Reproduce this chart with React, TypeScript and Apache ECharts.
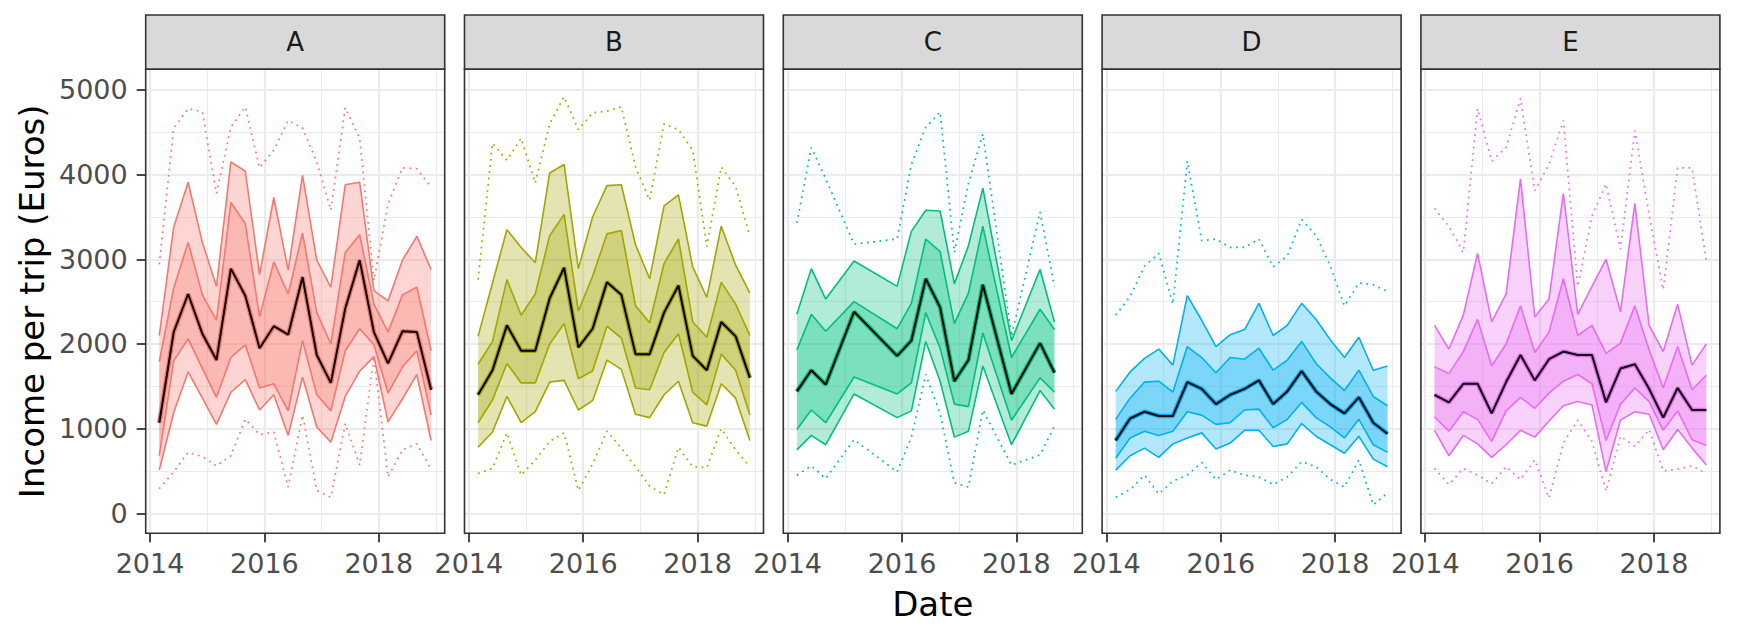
import React, { useEffect, useRef } from "react";
import * as echarts from "echarts";

// ---------- data ----------
const QUARTERS = [
  "2014-03-01", "2014-06-01", "2014-09-01", "2014-12-01",
  "2015-03-01", "2015-06-01", "2015-09-01", "2015-12-01",
  "2016-03-01", "2016-06-01", "2016-09-01", "2016-12-01",
  "2017-03-01", "2017-06-01", "2017-09-01", "2017-12-01",
  "2018-03-01", "2018-06-01", "2018-09-01", "2018-12-01",
];
const C_DATES = [
  "2014-03-01", "2014-06-01", "2014-09-01", "2015-03-01", "2015-12-01",
  "2016-03-01", "2016-06-01", "2016-09-01", "2016-12-01", "2017-03-01",
  "2017-06-01", "2017-12-01", "2018-06-01", "2018-09-01",
];

const A_MED = [1070, 2140, 2590, 2120, 1810, 2890, 2570, 1950, 2210, 2110, 2790, 1870, 1540, 2420, 2990, 2140, 1770, 2150, 2140, 1460];
const A_P75 = [1790, 2660, 3200, 2580, 2280, 3670, 3420, 2320, 2970, 2590, 3310, 2370, 2000, 3080, 3290, 2470, 2140, 2580, 2670, 1920];
const A_P25 = [680, 1800, 2060, 1710, 1370, 1840, 1990, 1480, 1530, 1210, 2040, 1400, 1210, 1920, 2180, 1990, 1420, 1730, 1920, 1160];
const A_P90 = [2100, 3380, 3910, 3200, 2680, 4150, 4040, 2820, 3730, 2870, 3990, 2990, 2670, 3880, 3910, 2630, 2510, 2990, 3270, 2880];
const A_P10 = [510, 1190, 1670, 1360, 1050, 1430, 1580, 1220, 1400, 920, 1610, 1020, 840, 1380, 1680, 1850, 1080, 1350, 1640, 860];
const A_MAX = [2940, 4550, 4780, 4740, 3780, 4560, 4800, 4080, 4290, 4640, 4550, 4150, 3580, 4790, 4430, 2750, 3650, 4080, 4070, 3850];
const A_MIN = [290, 490, 720, 670, 560, 680, 1110, 930, 960, 310, 1160, 270, 190, 1060, 570, 1850, 430, 750, 820, 520];

const B_MED = [1400, 1690, 2220, 1920, 1920, 2540, 2900, 1960, 2180, 2730, 2580, 1880, 1880, 2370, 2690, 1860, 1690, 2260, 2090, 1600];
const B_P75 = [1760, 2030, 2760, 2340, 2590, 3280, 3530, 2390, 2800, 3300, 3340, 2450, 2250, 2950, 3240, 2260, 2080, 2730, 2470, 2100];
const B_P25 = [1070, 1340, 1770, 1540, 1540, 2000, 2240, 1590, 1680, 2210, 2070, 1480, 1460, 1900, 2120, 1430, 1280, 1880, 1690, 1160];
const B_P90 = [2090, 2720, 3350, 3140, 2960, 4020, 4120, 2890, 3500, 3870, 3880, 3170, 2770, 3630, 3760, 2910, 2550, 3390, 2930, 2600];
const B_P10 = [780, 960, 1380, 1070, 1200, 1550, 1570, 1220, 1330, 1810, 1700, 1170, 1130, 1400, 1560, 1070, 1030, 1530, 1360, 860];
const B_MAX = [2760, 4370, 4170, 4430, 3900, 4600, 4920, 4530, 4730, 4750, 4800, 4090, 3700, 4600, 4530, 4290, 3150, 4090, 3860, 3270];
const B_MIN = [470, 530, 950, 450, 630, 850, 950, 270, 580, 970, 770, 550, 320, 220, 780, 550, 540, 1000, 750, 550];

const C_MED = [1440, 1690, 1520, 2380, 1860, 2040, 2770, 2430, 1560, 1810, 2700, 1410, 2010, 1660];
const C_P75 = [1930, 2350, 2150, 2500, 2180, 2480, 3240, 3090, 2240, 2600, 3390, 1840, 2410, 2170];
const C_P25 = [990, 1220, 1070, 1610, 1410, 1540, 2370, 1950, 1290, 1260, 2130, 1100, 1600, 1430];
const C_P90 = [2350, 2890, 2530, 2980, 2680, 3330, 3580, 3570, 2710, 3160, 3840, 2040, 2880, 2260];
const C_P10 = [750, 920, 810, 1410, 1130, 1210, 2030, 1560, 900, 970, 1740, 810, 1450, 1230];
const C_MAX = [3430, 4320, 3950, 3180, 3240, 4120, 4560, 4740, 3080, 3900, 4480, 2090, 3560, 2680];
const C_MIN = [450, 560, 410, 870, 490, 900, 1640, 1180, 360, 310, 1220, 570, 690, 1030];

const D_MED = [860, 1120, 1200, 1150, 1150, 1550, 1470, 1290, 1400, 1470, 1570, 1290, 1440, 1680, 1440, 1290, 1180, 1370, 1070, 940];
const D_P75 = [1110, 1360, 1550, 1560, 1430, 1970, 1840, 1660, 1840, 1820, 1950, 1690, 1810, 2030, 1770, 1600, 1450, 1690, 1380, 1270];
const D_P25 = [650, 890, 970, 920, 970, 1200, 1160, 1050, 1070, 1220, 1230, 1010, 1110, 1310, 1130, 1020, 890, 1110, 810, 720];
const D_P90 = [1440, 1670, 1830, 1940, 1750, 2570, 2280, 1970, 2110, 2170, 2480, 2100, 2220, 2480, 2290, 2050, 1840, 2080, 1690, 1740];
const D_P10 = [510, 680, 770, 660, 820, 890, 950, 760, 830, 980, 980, 790, 820, 1060, 910, 810, 710, 910, 640, 550];
const D_MAX = [2340, 2560, 2920, 3070, 2470, 4160, 3220, 3240, 3140, 3140, 3240, 2910, 3040, 3470, 3280, 2920, 2450, 2720, 2700, 2620];
const D_MIN = [190, 280, 450, 230, 380, 450, 600, 400, 510, 450, 430, 340, 430, 610, 550, 400, 310, 630, 100, 240];

const E_MED = [1400, 1310, 1530, 1530, 1180, 1550, 1870, 1570, 1820, 1910, 1870, 1870, 1310, 1710, 1760, 1470, 1130, 1480, 1220, 1220];
const E_P75 = [1730, 1650, 1910, 2290, 1740, 2000, 2450, 1900, 2140, 2770, 2100, 2220, 1890, 2010, 2450, 1930, 1480, 1970, 1460, 1630];
const E_P25 = [1140, 970, 1200, 1110, 850, 1210, 1370, 1240, 1420, 1560, 1640, 1530, 860, 1290, 1480, 1320, 980, 1210, 870, 800];
const E_P90 = [2220, 1940, 2340, 3070, 2260, 2590, 3950, 2320, 2530, 3780, 2350, 2680, 3000, 2380, 3660, 2220, 1910, 2470, 1750, 2000];
const E_P10 = [980, 680, 920, 820, 660, 810, 980, 900, 1090, 1270, 1320, 1280, 490, 1100, 1200, 1170, 750, 990, 770, 570];
const E_MAX = [3600, 3390, 3080, 4780, 4160, 4320, 4900, 3810, 4120, 4640, 2680, 3510, 3890, 3120, 4520, 3530, 2640, 4080, 4080, 2980];
const E_MIN = [530, 340, 530, 450, 350, 550, 400, 630, 180, 830, 1100, 850, 260, 910, 790, 990, 500, 520, 560, 470];

const PANEL_NAMES = ["A", "B", "C", "D", "E"];
const PANEL_COLORS = ["#F8766D", "#A3A500", "#00BF7D", "#00B0F6", "#E76BF3"];
const X_MAJOR = [2014, 2016, 2018];
const X_MINOR = [2015, 2017, 2019];
const Y_MAJOR = [0, 1000, 2000, 3000, 4000, 5000];
const Y_MINOR = [500, 1500, 2500, 3500, 4500];
const Y_MIN = -236;
const Y_MAX = 5244;

// ---------- layout ----------
const W = 1755;
const H = 629;
const L0 = 145.7;
const STEP = 318.8;
const PW = 299;
const TOP = 69.3;
const PH = 464;
const STRIP_TOP = 15;
const FONT = '"DejaVu Sans", "Liberation Sans", sans-serif';

function decYear(s: string): number {
  const [y, m, d] = s.split("-").map(Number);
  const start = Date.UTC(y, 0, 1);
  const len = Date.UTC(y + 1, 0, 1) - start;
  return y + (Date.UTC(y, m - 1, d) - start) / len;
}

function rgba(hex: string, a: number): string {
  const n = parseInt(hex.slice(1), 16);
  return `rgba(${(n >> 16) & 255},${(n >> 8) & 255},${n & 255},${a})`;
}

const PANELS = [
  { dates: QUARTERS, med: A_MED, p25: A_P25, p75: A_P75, p10: A_P10, p90: A_P90, mn: A_MIN, mx: A_MAX },
  { dates: QUARTERS, med: B_MED, p25: B_P25, p75: B_P75, p10: B_P10, p90: B_P90, mn: B_MIN, mx: B_MAX },
  { dates: C_DATES, med: C_MED, p25: C_P25, p75: C_P75, p10: C_P10, p90: C_P90, mn: C_MIN, mx: C_MAX },
  { dates: QUARTERS, med: D_MED, p25: D_P25, p75: D_P75, p10: D_P10, p90: D_P90, mn: D_MIN, mx: D_MAX },
  { dates: QUARTERS, med: E_MED, p25: E_P25, p75: E_P75, p10: E_P10, p90: E_P90, mn: E_MIN, mx: E_MAX },
];

function buildOption() {
  const allX = PANELS.flatMap((p) => p.dates.map(decYear));
  const lo = Math.min(...allX);
  const hi = Math.max(...allX);
  const pad = (hi - lo) * 0.05;
  const xMin = lo - pad;
  const xMax = hi + pad;

  const grid: any[] = [];
  const xAxis: any[] = [];
  const yAxis: any[] = [];
  const series: any[] = [];
  const graphic: any[] = [];

  PANELS.forEach((p, i) => {
    const left = L0 + i * STEP;
    const color = PANEL_COLORS[i];
    grid.push({ left, top: TOP, width: PW, height: PH, show: true, backgroundColor: "#ffffff", borderWidth: 0 });

    xAxis.push({
      type: "value", gridIndex: i, min: xMin, max: xMax, position: "bottom",
      axisLine: { show: false, onZero: false },
      axisTick: { show: true, length: 9, lineStyle: { color: "#333333", width: 1.8 }, customValues: X_MAJOR },
      axisLabel: { show: true, customValues: X_MAJOR, margin: 17, color: "#4D4D4D", fontSize: 27, fontFamily: FONT, formatter: (v: number) => String(Math.round(v)) },
      splitLine: { show: true, lineStyle: { color: "#EBEBEB", width: 2.2 } },
    });
    xAxis.push({
      type: "value", gridIndex: i, min: xMin, max: xMax, position: "top",
      axisLine: { show: false, onZero: false },
      axisTick: { show: false, customValues: X_MINOR },
      axisLabel: { show: false, customValues: X_MINOR },
      splitLine: { show: true, lineStyle: { color: "#EBEBEB", width: 1.1 } },
    });
    yAxis.push({
      type: "value", gridIndex: i, min: Y_MIN, max: Y_MAX, position: "left",
      axisLine: { show: false, onZero: false },
      axisTick: { show: i === 0, length: 9, lineStyle: { color: "#333333", width: 1.8 }, customValues: Y_MAJOR },
      axisLabel: { show: i === 0, customValues: Y_MAJOR, margin: 18, color: "#4D4D4D", fontSize: 27, fontFamily: FONT, formatter: (v: number) => String(Math.round(v)) },
      splitLine: { show: true, lineStyle: { color: "#EBEBEB", width: 2.2 } },
    });
    yAxis.push({
      type: "value", gridIndex: i, min: Y_MIN, max: Y_MAX, position: "right",
      axisLine: { show: false, onZero: false },
      axisTick: { show: false, customValues: Y_MINOR },
      axisLabel: { show: false, customValues: Y_MINOR },
      splitLine: { show: true, lineStyle: { color: "#EBEBEB", width: 1.1 } },
    });

    const xs = p.dates.map(decYear);
    const xi = 2 * i;
    const yi = 2 * i;

    const band = (low: number[], high: number[]) => ({
      type: "custom", xAxisIndex: xi, yAxisIndex: yi, silent: true,
      data: xs.map((x, k) => [x, low[k], high[k]]),
      encode: { x: 0, y: [1, 2] },
      renderItem: (params: any, api: any) => {
        if (params.dataIndex !== 0) return null;
        const pts: number[][] = [];
        for (let k = 0; k < xs.length; k++) pts.push(api.coord([xs[k], low[k]]));
        for (let k = xs.length - 1; k >= 0; k--) pts.push(api.coord([xs[k], high[k]]));
        return { type: "polygon", shape: { points: pts }, style: { fill: rgba(color, 0.3), stroke: "none" } };
      },
    });
    series.push(band(p.p10, p.p90));
    series.push(band(p.p25, p.p75));

    const line = (vals: number[], c: string, width: number, dash: any) => ({
      type: "line", xAxisIndex: xi, yAxisIndex: yi, silent: true,
      data: xs.map((x, k) => [x, vals[k]]),
      symbol: "none", showSymbol: false,
      lineStyle: { color: c, width, type: dash, cap: "butt" },
      emphasis: { disabled: true },
    });
    series.push(line(p.mx, color, 1.7, [1.7, 4.6]));
    series.push(line(p.mn, color, 1.7, [1.7, 4.6]));
    series.push(line(p.p90, color, 1.6, "solid"));
    series.push(line(p.p10, color, 1.6, "solid"));
    series.push(line(p.p75, color, 1.6, "solid"));
    series.push(line(p.p25, color, 1.6, "solid"));
    series.push(line(p.med, color, 4.5, "solid"));
    series.push(line(p.med, "#000000", 2, "solid"));

    // strip
    graphic.push({
      type: "rect", z: 100,
      shape: { x: left, y: STRIP_TOP, width: PW, height: TOP - STRIP_TOP },
      style: { fill: "#D9D9D9", stroke: "#333333", lineWidth: 1.6 },
    });
    graphic.push({
      type: "text", z: 101, x: left + PW / 2, y: (STRIP_TOP + TOP) / 2,
      style: { text: PANEL_NAMES[i], fill: "#1A1A1A", font: `26px ${FONT}`, align: "center", verticalAlign: "middle", textAlign: "center", textVerticalAlign: "middle" },
    });
    // panel border
    graphic.push({
      type: "rect", z: 100,
      shape: { x: left, y: TOP, width: PW, height: PH },
      style: { fill: "transparent", stroke: "#333333", lineWidth: 1.6 },
    });
  });

  graphic.push({
    type: "text", z: 101, x: 32, y: TOP + PH / 2, rotation: Math.PI / 2,
    style: { text: "Income per trip (Euros)", fill: "#000000", font: `34px ${FONT}`, align: "center", verticalAlign: "middle", textAlign: "center", textVerticalAlign: "middle" },
  });
  graphic.push({
    type: "text", z: 101, x: (L0 + 4 * STEP + PW + L0) / 2, y: 604,
    style: { text: "Date", fill: "#000000", font: `34px ${FONT}`, align: "center", verticalAlign: "middle", textAlign: "center", textVerticalAlign: "middle" },
  });

  return { animation: false, backgroundColor: "#ffffff", grid, xAxis, yAxis, series, graphic };
}

export default function App() {
  const ref = useRef<HTMLDivElement>(null);
  useEffect(() => {
    if (!ref.current) return;
    const chart = echarts.init(ref.current, undefined, { renderer: "svg" });
    chart.setOption(buildOption() as any);
    return () => chart.dispose();
  }, []);
  return (
    <div
      ref={ref}
      style={{ position: "fixed", left: 0, top: 0, width: W, height: H, background: "#ffffff" }}
    />
  );
}
